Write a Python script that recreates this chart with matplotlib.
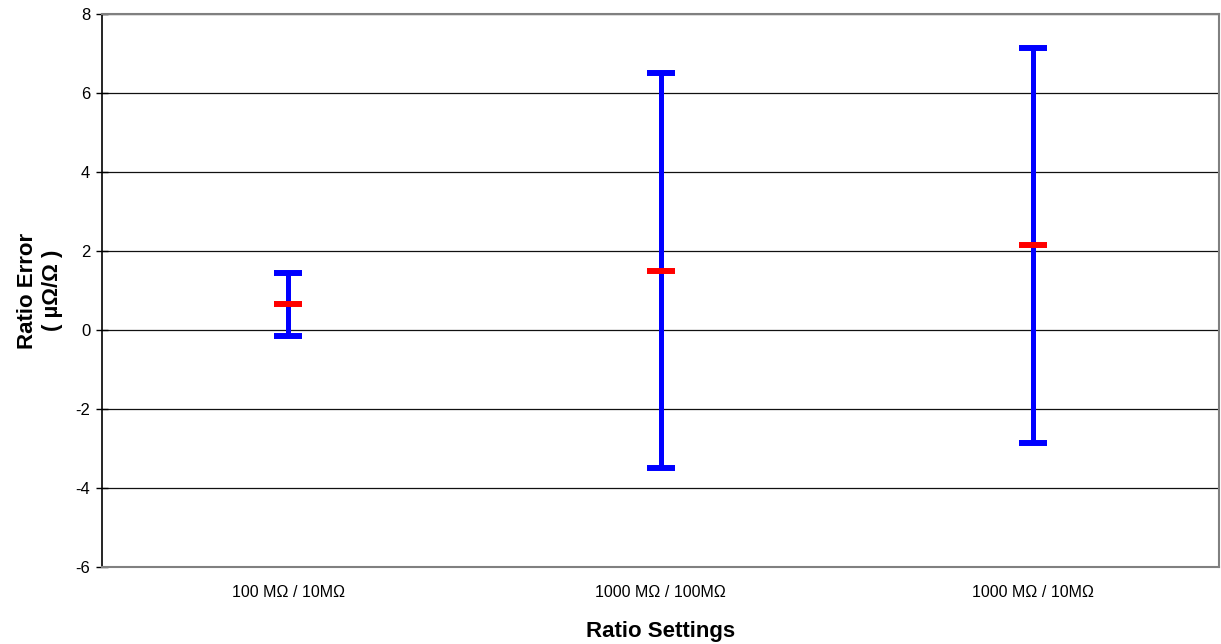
import matplotlib.pyplot as plt
import numpy as np

plt.rcParams['font.family'] = ['Liberation Sans', 'DejaVu Sans']
plt.rcParams['axes.unicode_minus'] = False  # 负号用普通连字符

# 数据
categories = ['100 MΩ / 10MΩ', '1000 MΩ / 100MΩ', '1000 MΩ / 10MΩ']
centers = [0.65, 1.50, 2.15]
upper = [1.45, 6.50, 7.15]
lower = [-0.15, -3.50, -2.86]

fig = plt.figure(figsize=(12.21, 6.44), dpi=100)
ax = fig.add_axes([102 / 1221, 77 / 644, 1117 / 1221, 553 / 644])

x = np.arange(len(categories))
yerr = [np.array(centers) - np.array(lower), np.array(upper) - np.array(centers)]

# 误差棒
ax.errorbar(x, centers, yerr=yerr, fmt='none', ecolor='#0000ff',
            elinewidth=3.6, capsize=10, capthick=4.3, zorder=3)
# 中心值（红色短横线）
ax.scatter(x, centers, marker='_', s=400, color='#ff0000',
           linewidths=4.3, zorder=4)

ax.set_xlim(-0.5, 2.5)
ax.set_ylim(-6, 8)
ax.set_yticks(range(-6, 9, 2))
ax.set_xticks(x)
ax.set_xticklabels(categories, fontsize=11.5)
ax.tick_params(axis='x', length=0, pad=13)
ax.tick_params(axis='y', direction='inout', length=9, width=1,
               labelsize=12, pad=4)

ax.yaxis.grid(True, color='#111111', linewidth=0.9)
ax.set_axisbelow(True)

for side in ['top', 'right', 'bottom']:
    ax.spines[side].set_color('#808080')
    ax.spines[side].set_linewidth(1.5)
ax.spines['left'].set_color('black')
ax.spines['left'].set_linewidth(1.2)

ax.set_xlabel('Ratio Settings', fontsize=16, fontweight='bold', labelpad=15)
ax.set_ylabel('Ratio Error\n( µΩ/Ω )', fontsize=16, fontweight='bold',
              labelpad=9, linespacing=1.25)

fig.savefig('out.png', dpi=100)
